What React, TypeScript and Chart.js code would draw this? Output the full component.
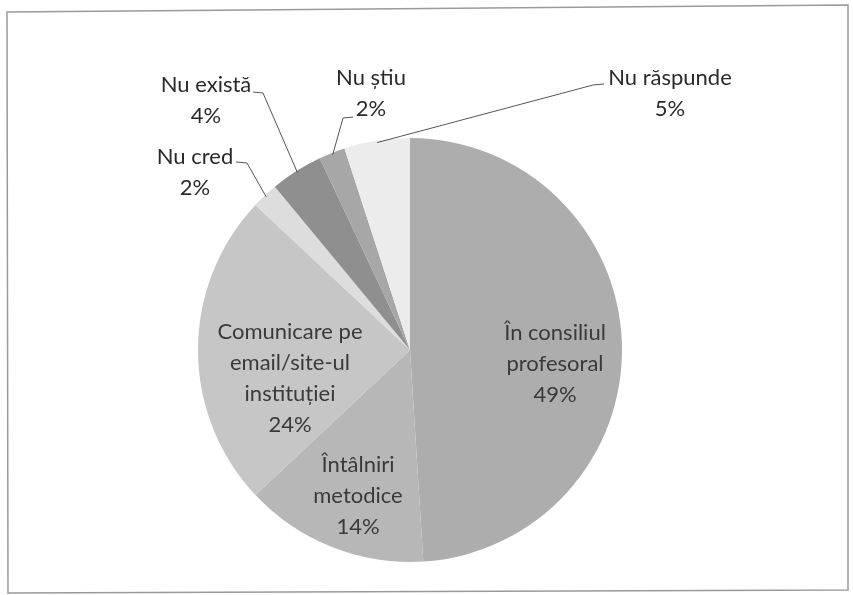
import React, { useEffect, useRef } from "react";
import { Chart, registerables } from "chart.js";

Chart.register(...registerables);

const categories: string[][] = [
  ["În consiliul", "profesoral"],
  ["Întâlniri", "metodice"],
  ["Comunicare pe", "email/site-ul", "instituției"],
  ["Nu cred"],
  ["Nu există"],
  ["Nu știu"],
  ["Nu răspunde"],
];
const values: number[] = [49, 14, 24, 2, 4, 2, 5];
const colors: string[] = ["#adadad", "#b7b7b7", "#c6c6c6", "#dddddd", "#8f8f8f", "#a7a7a7", "#ececec"];

// label anchor (x center, first line y), inside flag, leader elbow x (for outside)
const labelPos: { x: number; y: number; inside: boolean; lx?: number; ly?: number; lx2?: number }[] = [
  { x: 555, y: 333, inside: true },
  { x: 358, y: 465, inside: true },
  { x: 290, y: 332, inside: true },
  { x: 195, y: 157, inside: false, lx: 236, ly: 162, lx2: 247 },
  { x: 206, y: 85, inside: false, lx: 253, ly: 92, lx2: 263 },
  { x: 371, y: 78, inside: false, lx: 353, ly: 117, lx2: 343 },
  { x: 670, y: 78, inside: false, lx: 604, ly: 84, lx2: 593 },
];

const FONT = "22px Lato";
const LINE_H = 31;

const labelPlugin = {
  id: "pieLabels",
  beforeDraw(chart: any) {
    const ctx = chart.ctx;
    ctx.save();
    ctx.strokeStyle = "#9a9a9a";
    ctx.lineWidth = 1.5;
    ctx.beginPath();
    ctx.moveTo(7, 12);
    ctx.lineTo(848, 5);
    ctx.lineTo(848, 590);
    ctx.lineTo(8, 593);
    ctx.closePath();
    ctx.stroke();
    ctx.restore();
  },
  afterDatasetsDraw(chart: any) {
    const ctx = chart.ctx;
    const meta = chart.getDatasetMeta(0);
    const total = values.reduce((a, b) => a + b, 0);
    ctx.save();
    ctx.font = FONT;
    ctx.textAlign = "center";
    ctx.textBaseline = "middle";
    meta.data.forEach((arc: any, i: number) => {
      const p = labelPos[i];
      const pct = Math.round((values[i] / total) * 100) + "%";
      const lines = [...categories[i], pct];
      if (p.inside) {
        ctx.fillStyle = "#3a3a3a";
        lines.forEach((t, k) => ctx.fillText(t, p.x, p.y + k * LINE_H));
      } else {
        ctx.fillStyle = "#2a2a2a";
        ctx.fillText(lines[0], p.x, p.y);
        ctx.fillText(lines[1], p.x, p.y + LINE_H);
        const mid = (arc.startAngle + arc.endAngle) / 2;
        const ex = arc.x + Math.cos(mid) * (arc.outerRadius - 2);
        const ey = arc.y + Math.sin(mid) * (arc.outerRadius - 2);
        ctx.strokeStyle = "#555";
        ctx.lineWidth = 1;
        ctx.beginPath();
        ctx.moveTo(p.lx!, p.ly!);
        ctx.lineTo(p.lx2!, p.ly! + 1);
        ctx.lineTo(ex, ey);
        ctx.stroke();
      }
    });
    ctx.restore();
  },
};

export default function App() {
  const ref = useRef<HTMLCanvasElement>(null);
  useEffect(() => {
    const chart = new Chart(ref.current!, {
      type: "pie",
      data: {
        labels: categories.map((c) => c.join(" ")),
        datasets: [
          {
            data: values,
            backgroundColor: colors,
            borderWidth: 0,
          },
        ],
      },
      options: {
        animation: false,
        responsive: false,
        layout: { padding: { top: 138, bottom: 33, left: 198, right: 231 } },
        plugins: { legend: { display: false }, tooltip: { enabled: false } },
      },
      plugins: [labelPlugin],
    });
    return () => chart.destroy();
  }, []);
  return (
    <div style={{ position: "fixed", left: 0, top: 0, width: 853, height: 595, background: "#fff" }}>
      <canvas ref={ref} width={853} height={595} style={{ display: "block" }} />
    </div>
  );
}
